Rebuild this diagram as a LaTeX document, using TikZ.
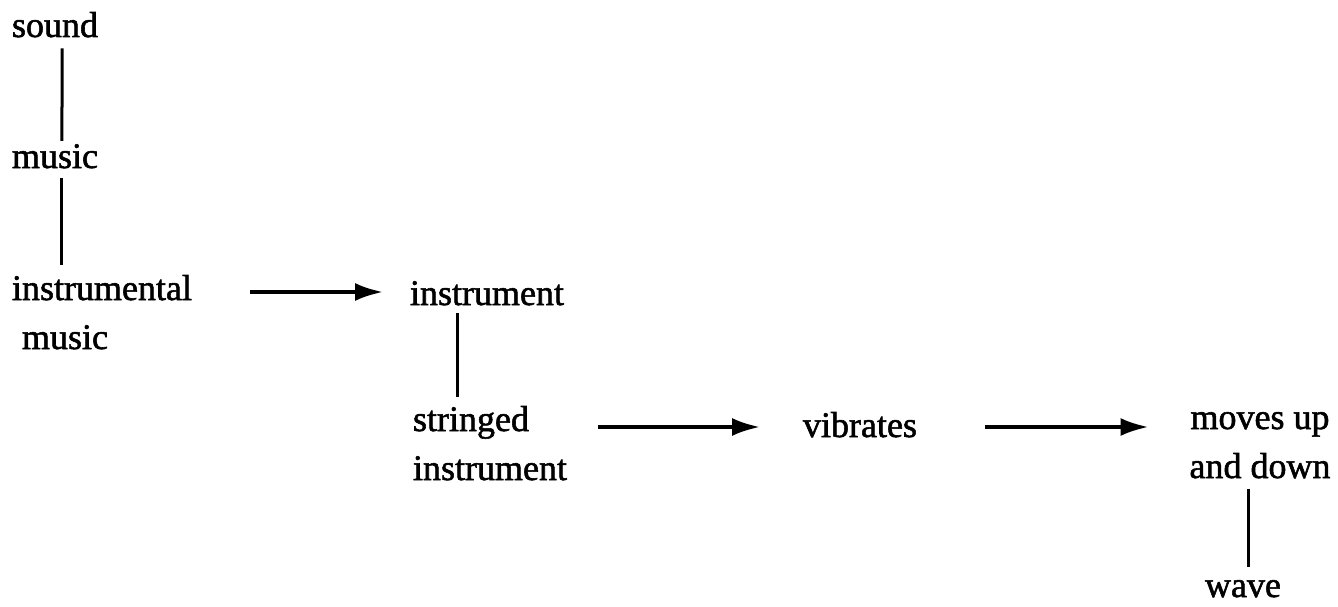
\documentclass[tikz,border=0pt]{standalone}
\usepackage{fontspec}
\newfontfamily\scanfont{Liberation Serif}[FakeBold=1.5]
\usetikzlibrary{arrows.meta}
\tikzset{
  concept/.style={inner sep=0pt, outer sep=0pt, anchor=base west, font=\scanfont\fontsize{36}{49}\selectfont},
  link/.style={line width=3pt},
  arr/.style={line width=3.5pt, -{Latex[length=28pt,width=18pt]}}
}
\begin{document}
\begin{tikzpicture}[x=1pt,y=-1pt]
\useasboundingbox (0,0) rectangle (1338,607);
\node[concept] (sound) at (12,37) {sound};
\node[concept] (music) at (12,168) {music};
\node[concept] (instrumental) at (12,300) {\begin{tabular}[t]{@{}l@{}}instrumental\\\hspace{10pt}music\end{tabular}};
\node[concept] (instrument) at (410,305) {instrument};
\node[concept] (stringed) at (413,431) {\begin{tabular}[t]{@{}l@{}}stringed\\instrument\end{tabular}};
\node[concept] (vibrates) at (803,437) {vibrates};
\node[concept, anchor=base] (moves) at (1260,429) {\begin{tabular}[t]{@{}c@{}}moves up\\and down\end{tabular}};
\node[concept] (wave) at (1205,597) {wave};

\draw[link, shorten <=11pt, shorten >=3.4pt] ([xshift=7pt]sound.south) -- ([xshift=7pt]music.north);
\draw[link, shorten <=10pt, shorten >=0.7pt] ([xshift=7pt]music.south) -- ([xshift=7pt]music.south |- instrumental.north);
\draw[link, shorten <=8pt] ([xshift=-29pt]instrument.south) -- ([xshift=-29pt]instrument.south |- stringed.north);
\draw[link, shorten <=-4pt, shorten >=13.5pt] ([xshift=-12pt]moves.south) -- ([xshift=-12pt]moves.south |- wave.north);

\draw[arr, shorten <=58pt, shorten >=27pt] ([yshift=8pt]instrumental.base east) -- ([yshift=8pt]instrumental.base east -| instrument.west);
\draw[arr, shorten <=31pt, shorten >=43pt] ([yshift=4pt]stringed.base east) -- ([yshift=4pt]stringed.base east -| vibrates.west);
\draw[arr, shorten <=68pt, shorten >=41pt] ([yshift=10pt]vibrates.base east) -- ([yshift=10pt]vibrates.base east -| moves.west);
\end{tikzpicture}
\end{document}
